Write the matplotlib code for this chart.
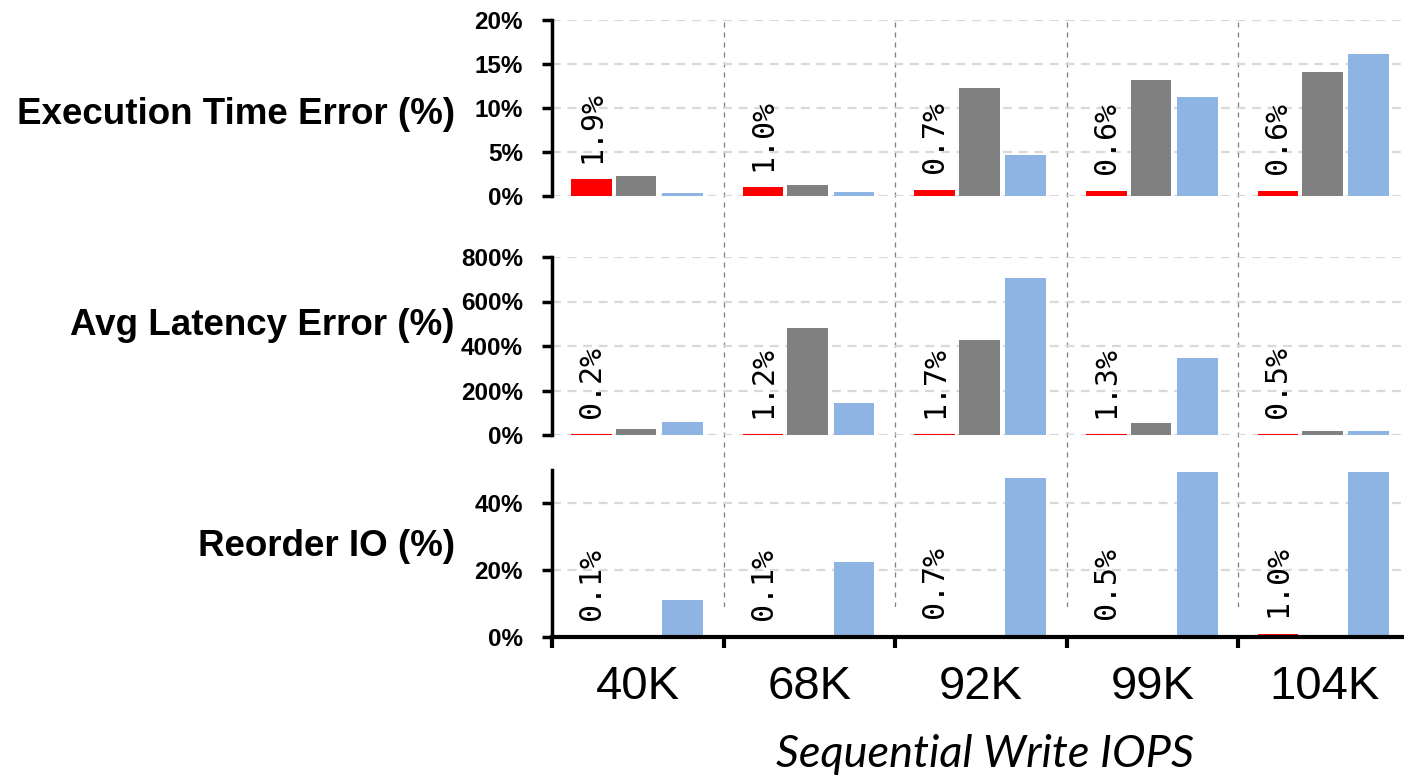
import matplotlib
matplotlib.use("Agg")
import matplotlib.pyplot as plt
import numpy as np

# data
categories = ["40K", "68K", "92K", "99K", "104K"]
exec_red = [1.9, 1.0, 0.7, 0.6, 0.6]
exec_gray = [2.3, 1.25, 12.3, 13.2, 14.1]
exec_blue = [0.35, 0.5, 4.7, 11.3, 16.1]
lat_red = [0.2, 1.2, 1.7, 1.3, 0.5]
lat_gray = [27, 480, 427, 56, 18]
lat_blue = [59, 145, 705, 347, 18]
reo_red = [0.1, 0.1, 0.7, 0.5, 1.0]
reo_gray = [0, 0, 0, 0, 0]
reo_blue = [11, 22.5, 47.6, 49.5, 49.5]

panel_titles = ["Execution Time Error (%)", "Avg Latency Error (%)", "Reorder IO (%)"]

RED = "#FF0000"
GRAY = "#808080"
BLUE = "#8EB4E3"

plt.rcParams['font.family'] = ['Liberation Sans', 'DejaVu Sans']

W, H = 1404, 779
fig = plt.figure(figsize=(W / 100, H / 100), dpi=100)

def px_box(top, bottom, left=552, right=1404):
    return [left / W, 1 - bottom / H, (right - left) / W, (bottom - top) / H]

XMIN, XMAX = -0.5, 4.465

# overlay for the vertical dashed separators running through all panels
ov = fig.add_axes(px_box(20, 607), zorder=0)
ov.set_xlim(XMIN, XMAX)
ov.set_ylim(0, 1)
ov.axis("off")
for b in np.arange(0.5, 4.0, 1.0):
    ov.axvline(b, color="#7F7F7F", lw=0.9, dashes=(4, 4))

boxes = [px_box(20, 196), px_box(257, 435), px_box(470, 637)]
series = [
    (exec_red, exec_gray, exec_blue, 20, [0, 5, 10, 15, 20]),
    (lat_red, lat_gray, lat_blue, 800, [0, 200, 400, 600, 800]),
    (reo_red, reo_gray, reo_blue, 50, [0, 20, 40]),
]

x = np.arange(len(categories))
bw = 0.237
offsets = [-0.27, -0.01, 0.26]

for i, (box, (red, gray, blue, ymax, yt)) in enumerate(zip(boxes, series)):
    ax = fig.add_axes(box, zorder=1)
    ax.patch.set_alpha(0)
    ax.set_xlim(XMIN, XMAX)
    ax.set_ylim(0, ymax)
    red_lw = 1.5 if i == 1 else 0
    ax.bar(x + offsets[0], red, bw, color=RED, edgecolor=RED, linewidth=red_lw, zorder=3)
    ax.bar(x + offsets[1], gray, bw, color=GRAY, linewidth=0, zorder=3)
    ax.bar(x + offsets[2], blue, bw, color=BLUE, linewidth=0, zorder=3)

    for xi, v in zip(x, red):
        ax.annotate(f"{v:.1f}%", (xi + offsets[0], v), xytext=(0, 12),
                    textcoords="offset points", rotation=90, ha="center", va="bottom",
                    fontsize=21.5, family="DejaVu Sans Mono", zorder=4)

    ax.set_yticks(yt)
    ax.set_yticklabels([f"{t}%" for t in yt], fontsize=17.5, fontweight="bold")
    ax.tick_params(axis="y", direction="out", length=7, width=2.5, pad=14)
    for t in yt:
        ax.axhline(t, color="#D9D9D9", lw=1.6, dashes=(4, 3), zorder=1)

    for s in ["top", "right"]:
        ax.spines[s].set_visible(False)
    ax.spines["left"].set_linewidth(2.5)

    if i < 2:
        ax.spines["bottom"].set_visible(False)
        ax.set_xticks([])
    else:
        ax.spines["bottom"].set_linewidth(3)
        ax.spines["bottom"].set_zorder(5)
        ax.set_xticks(np.arange(-0.5, 4.0, 1.0))
        ax.set_xticklabels([])
        ax.tick_params(axis="x", which="major", direction="out", length=8, width=3)
        ax.set_xticks(x, minor=True)
        ax.set_xticklabels(categories, minor=True, fontsize=34)
        ax.tick_params(axis="x", which="minor", length=0, pad=20)

label_y = [115, 325, 547]
for t, yy in zip(panel_titles, label_y):
    fig.text(455 / W, 1 - yy / H, t, ha="right", va="center", fontsize=26.5, fontweight="bold")

fig.text(985 / W, 1 - 767 / H, "Sequential Write IOPS", ha="center", va="baseline",
         fontsize=32.5, style="italic", family=["Lato", "DejaVu Sans"])

fig.savefig("out.png", dpi=100)
